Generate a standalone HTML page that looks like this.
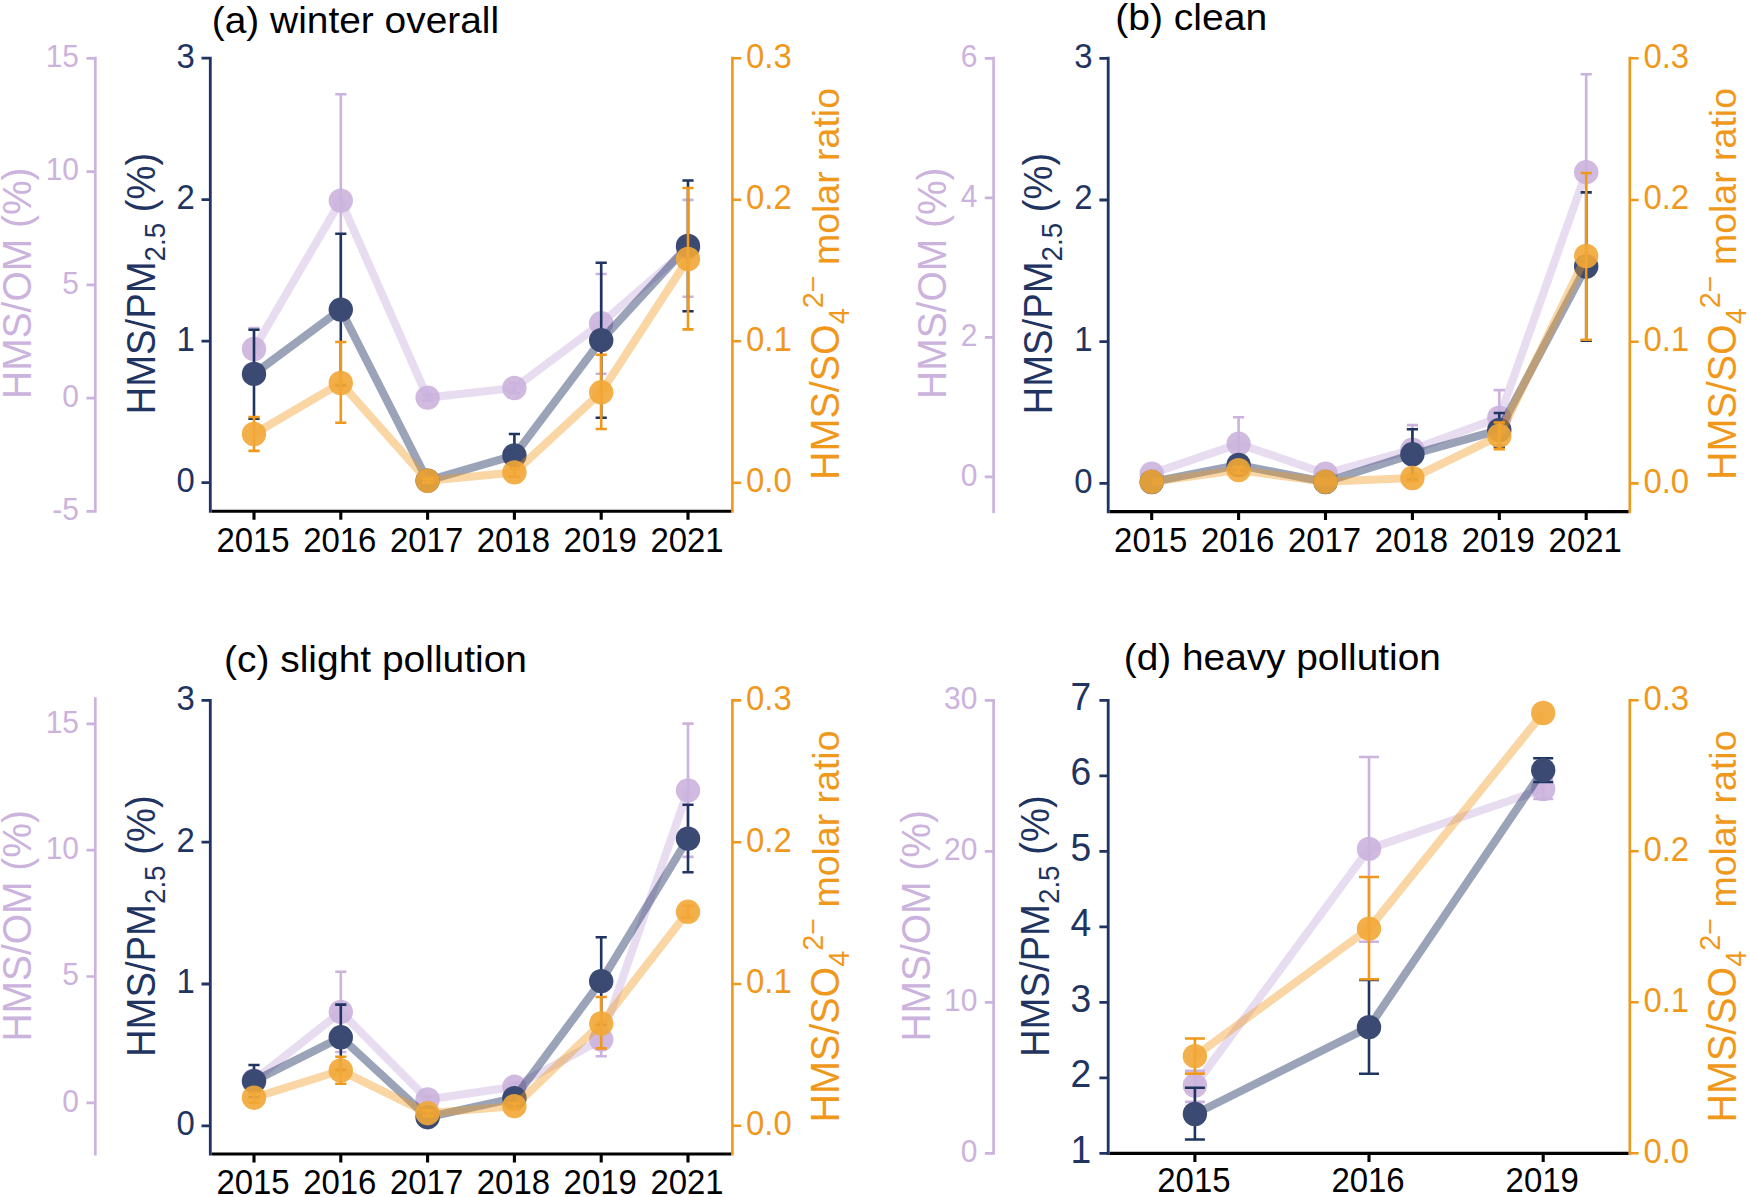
<!DOCTYPE html>
<html lang="en">
<head>
<meta charset="utf-8">
<title>HMS ratios by winter pollution level</title>
<style>
html,body{margin:0;padding:0;background:#fff;}
body{width:1750px;height:1197px;overflow:hidden;}
svg{display:block;}
svg text{font-family:"Liberation Sans", Arial, Helvetica, sans-serif;}
</style>
</head>
<body>
<svg width="1750" height="1197" viewBox="0 0 1750 1197">
<rect width="1750" height="1197" fill="#fff"/>
<g>
<polyline points="254,349 340.8,200.6 427.6,397.6 514.4,388 601.2,323.3 688,248.3" fill="none" stroke="#cbb3dd" stroke-opacity="0.45" stroke-width="8.1" stroke-linejoin="round" stroke-linecap="butt"/>
<path d="M254 328V370M248.4 328H259.6M248.4 370H259.6M340.8 94.3V306.9M335.2 94.3H346.4M335.2 306.9H346.4M427.6 394.6V400.6M422 394.6H433.2M422 400.6H433.2M514.4 383V393M508.8 383H520M508.8 393H520M601.2 274V373.7M595.6 274H606.8M595.6 373.7H606.8M688 199.9V296.7M682.4 199.9H693.6M682.4 296.7H693.6" fill="none" stroke="#cbb3dd" stroke-width="2.6"/>
<circle cx="254" cy="349" r="12.2" fill="#cbb3dd" fill-opacity="0.9"/>
<circle cx="340.8" cy="200.6" r="12.2" fill="#cbb3dd" fill-opacity="0.9"/>
<circle cx="427.6" cy="397.6" r="12.2" fill="#cbb3dd" fill-opacity="0.9"/>
<circle cx="514.4" cy="388" r="12.2" fill="#cbb3dd" fill-opacity="0.9"/>
<circle cx="601.2" cy="323.3" r="12.2" fill="#cbb3dd" fill-opacity="0.9"/>
<circle cx="688" cy="248.3" r="12.2" fill="#cbb3dd" fill-opacity="0.9"/>
<polyline points="254,373.9 340.8,309.6 427.6,480.6 514.4,455.4 601.2,340.2 688,245.9" fill="none" stroke="#1f3461" stroke-opacity="0.45" stroke-width="8.1" stroke-linejoin="round" stroke-linecap="butt"/>
<path d="M254 329.7V418.7M248.4 329.7H259.6M248.4 418.7H259.6M340.8 233.8V385.4M335.2 233.8H346.4M335.2 385.4H346.4M514.4 434V476.8M508.8 434H520M508.8 476.8H520M601.2 262.8V417.7M595.6 262.8H606.8M595.6 417.7H606.8M688 180.5V311.3M682.4 180.5H693.6M682.4 311.3H693.6" fill="none" stroke="#1f3461" stroke-width="2.6"/>
<circle cx="254" cy="373.9" r="12.2" fill="#3b4a73" fill-opacity="1.0"/>
<circle cx="340.8" cy="309.6" r="12.2" fill="#3b4a73" fill-opacity="1.0"/>
<circle cx="427.6" cy="480.6" r="12.2" fill="#3b4a73" fill-opacity="1.0"/>
<circle cx="514.4" cy="455.4" r="12.2" fill="#3b4a73" fill-opacity="1.0"/>
<circle cx="601.2" cy="340.2" r="12.2" fill="#3b4a73" fill-opacity="1.0"/>
<circle cx="688" cy="245.9" r="12.2" fill="#3b4a73" fill-opacity="1.0"/>
<polyline points="254,434 340.8,383 427.6,480.8 514.4,472.4 601.2,392.3 688,259" fill="none" stroke="#f0981c" stroke-opacity="0.4" stroke-width="8.1" stroke-linejoin="round" stroke-linecap="butt"/>
<path d="M254 417V450.9M248.4 417H259.6M248.4 450.9H259.6M340.8 342V422.7M335.2 342H346.4M335.2 422.7H346.4M427.6 478.8V482.8M422 478.8H433.2M422 482.8H433.2M514.4 468.4V476.4M508.8 468.4H520M508.8 476.4H520M601.2 354.8V429M595.6 354.8H606.8M595.6 429H606.8M688 188V329.4M682.4 188H693.6M682.4 329.4H693.6" fill="none" stroke="#f0981c" stroke-width="2.6"/>
<circle cx="254" cy="434" r="12.2" fill="#f2a736" fill-opacity="0.9"/>
<circle cx="340.8" cy="383" r="12.2" fill="#f2a736" fill-opacity="0.9"/>
<circle cx="427.6" cy="480.8" r="12.2" fill="#f2a736" fill-opacity="0.9"/>
<circle cx="514.4" cy="472.4" r="12.2" fill="#f2a736" fill-opacity="0.9"/>
<circle cx="601.2" cy="392.3" r="12.2" fill="#f2a736" fill-opacity="0.9"/>
<circle cx="688" cy="259" r="12.2" fill="#f2a736" fill-opacity="0.9"/>
<path d="M95.3 56.85V512.7M86.5 58.4H95.3M86.5 171.6H95.3M86.5 284.9H95.3M86.5 398.2H95.3M86.5 511.4H95.3" fill="none" stroke="#cbb3dd" stroke-width="2.7"/>
<text transform="translate(79 67.2) scale(0.96 1)" font-size="31.2" fill="#cbb3dd" text-anchor="end">15</text>
<text transform="translate(79 180.4) scale(0.96 1)" font-size="31.2" fill="#cbb3dd" text-anchor="end">10</text>
<text transform="translate(79 293.7) scale(0.96 1)" font-size="31.2" fill="#cbb3dd" text-anchor="end">5</text>
<text transform="translate(79 407) scale(0.96 1)" font-size="31.2" fill="#cbb3dd" text-anchor="end">0</text>
<text transform="translate(79 520.2) scale(0.96 1)" font-size="31.2" fill="#cbb3dd" text-anchor="end">-5</text>
<path d="M210.3 56.85V512.85M201.5 58.2H210.3M201.5 199.7H210.3M201.5 341.2H210.3M201.5 482.7H210.3" fill="none" stroke="#1f3461" stroke-width="2.8"/>
<text transform="translate(194.7 67.5) scale(0.96 1)" font-size="34.3" fill="#1f3461" text-anchor="end">3</text>
<text transform="translate(194.7 209) scale(0.96 1)" font-size="34.3" fill="#1f3461" text-anchor="end">2</text>
<text transform="translate(194.7 350.5) scale(0.96 1)" font-size="34.3" fill="#1f3461" text-anchor="end">1</text>
<text transform="translate(194.7 492) scale(0.96 1)" font-size="34.3" fill="#1f3461" text-anchor="end">0</text>
<path d="M732.4 56.85V512.85M732.4 58.2H741.2M732.4 199.7H741.2M732.4 341.2H741.2M732.4 482.7H741.2" fill="none" stroke="#f0981c" stroke-width="2.6"/>
<text transform="translate(746 67.5) scale(0.96 1)" font-size="34.3" fill="#f0981c" text-anchor="start">0.3</text>
<text transform="translate(746 209) scale(0.96 1)" font-size="34.3" fill="#f0981c" text-anchor="start">0.2</text>
<text transform="translate(746 350.5) scale(0.96 1)" font-size="34.3" fill="#f0981c" text-anchor="start">0.1</text>
<text transform="translate(746 492) scale(0.96 1)" font-size="34.3" fill="#f0981c" text-anchor="start">0.0</text>
<path d="M211.7 511.3H731.1M254 511.3V519.8M340.8 511.3V519.8M427.6 511.3V519.8M514.4 511.3V519.8M601.2 511.3V519.8M688 511.3V519.8" fill="none" stroke="#000" stroke-width="3.1"/>
<text transform="translate(253 551.6) scale(0.96 1)" font-size="34.3" fill="#000" text-anchor="middle">2015</text>
<text transform="translate(339.8 551.6) scale(0.96 1)" font-size="34.3" fill="#000" text-anchor="middle">2016</text>
<text transform="translate(426.6 551.6) scale(0.96 1)" font-size="34.3" fill="#000" text-anchor="middle">2017</text>
<text transform="translate(513.4 551.6) scale(0.96 1)" font-size="34.3" fill="#000" text-anchor="middle">2018</text>
<text transform="translate(600.2 551.6) scale(0.96 1)" font-size="34.3" fill="#000" text-anchor="middle">2019</text>
<text transform="translate(687 551.6) scale(0.96 1)" font-size="34.3" fill="#000" text-anchor="middle">2021</text>
<text transform="translate(31.3 398.9) rotate(-90)" font-size="39.8" fill="#cbb3dd" text-anchor="start" textLength="231.4" lengthAdjust="spacingAndGlyphs">HMS/OM (%)</text>
<text transform="translate(154.7 414.4) rotate(-90)" font-size="39.8" fill="#1f3461" text-anchor="start" textLength="261.7" lengthAdjust="spacingAndGlyphs">HMS/PM<tspan font-size="29.0" dy="10.3">2.5</tspan><tspan dy="-10.3"> (%)</tspan></text>
<text transform="translate(838.8 480) rotate(-90)" font-size="39.8" fill="#f0981c" text-anchor="start" textLength="392" lengthAdjust="spacingAndGlyphs">HMS/SO<tspan font-size="29.0" dy="10">4</tspan><tspan font-size="29.0" dy="-26">2−</tspan><tspan font-size="37.8" dy="16"> molar ratio</tspan></text>
<text x="211.8" y="33.4" font-size="37.8" fill="#000" textLength="287.3" lengthAdjust="spacingAndGlyphs">(a) winter overall</text>
</g>
<g>
<polyline points="1151.7,473.6 1238.6,443.8 1325.5,473.6 1412.4,449.6 1499.3,417.6 1586.2,172.2" fill="none" stroke="#cbb3dd" stroke-opacity="0.45" stroke-width="8.1" stroke-linejoin="round" stroke-linecap="butt"/>
<path d="M1151.7 470.6V476.6M1146.1 470.6H1157.3M1146.1 476.6H1157.3M1238.6 417.3V470.3M1233 417.3H1244.2M1233 470.3H1244.2M1325.5 470.6V476.6M1319.9 470.6H1331.1M1319.9 476.6H1331.1M1412.4 425.1V474.1M1406.8 425.1H1418M1406.8 474.1H1418M1499.3 390.1V445.1M1493.7 390.1H1504.9M1493.7 445.1H1504.9M1586.2 74.2V270.2M1580.6 74.2H1591.8M1580.6 270.2H1591.8" fill="none" stroke="#cbb3dd" stroke-width="2.6"/>
<circle cx="1151.7" cy="473.6" r="12.2" fill="#cbb3dd" fill-opacity="0.9"/>
<circle cx="1238.6" cy="443.8" r="12.2" fill="#cbb3dd" fill-opacity="0.9"/>
<circle cx="1325.5" cy="473.6" r="12.2" fill="#cbb3dd" fill-opacity="0.9"/>
<circle cx="1412.4" cy="449.6" r="12.2" fill="#cbb3dd" fill-opacity="0.9"/>
<circle cx="1499.3" cy="417.6" r="12.2" fill="#cbb3dd" fill-opacity="0.9"/>
<circle cx="1586.2" cy="172.2" r="12.2" fill="#cbb3dd" fill-opacity="0.9"/>
<polyline points="1151.7,482 1238.6,465 1325.5,482 1412.4,454.3 1499.3,430 1586.2,266.5" fill="none" stroke="#1f3461" stroke-opacity="0.45" stroke-width="8.1" stroke-linejoin="round" stroke-linecap="butt"/>
<path d="M1238.6 459V471M1233 459H1244.2M1233 471H1244.2M1412.4 429.2V479.4M1406.8 429.2H1418M1406.8 479.4H1418M1499.3 413V447M1493.7 413H1504.9M1493.7 447H1504.9M1586.2 192.4V340.6M1580.6 192.4H1591.8M1580.6 340.6H1591.8" fill="none" stroke="#1f3461" stroke-width="2.6"/>
<circle cx="1151.7" cy="482" r="12.2" fill="#3b4a73" fill-opacity="1.0"/>
<circle cx="1238.6" cy="465" r="12.2" fill="#3b4a73" fill-opacity="1.0"/>
<circle cx="1325.5" cy="482" r="12.2" fill="#3b4a73" fill-opacity="1.0"/>
<circle cx="1412.4" cy="454.3" r="12.2" fill="#3b4a73" fill-opacity="1.0"/>
<circle cx="1499.3" cy="430" r="12.2" fill="#3b4a73" fill-opacity="1.0"/>
<circle cx="1586.2" cy="266.5" r="12.2" fill="#3b4a73" fill-opacity="1.0"/>
<polyline points="1151.7,481.8 1238.6,470.1 1325.5,481.8 1412.4,478 1499.3,435.8 1586.2,256" fill="none" stroke="#f0981c" stroke-opacity="0.4" stroke-width="8.1" stroke-linejoin="round" stroke-linecap="butt"/>
<path d="M1238.6 467.1V473.1M1233 467.1H1244.2M1233 473.1H1244.2M1412.4 475V481M1406.8 475H1418M1406.8 481H1418M1499.3 422.5V449.3M1493.7 422.5H1504.9M1493.7 449.3H1504.9M1586.2 173V339.7M1580.6 173H1591.8M1580.6 339.7H1591.8" fill="none" stroke="#f0981c" stroke-width="2.6"/>
<circle cx="1151.7" cy="481.8" r="12.2" fill="#f2a736" fill-opacity="0.9"/>
<circle cx="1238.6" cy="470.1" r="12.2" fill="#f2a736" fill-opacity="0.9"/>
<circle cx="1325.5" cy="481.8" r="12.2" fill="#f2a736" fill-opacity="0.9"/>
<circle cx="1412.4" cy="478" r="12.2" fill="#f2a736" fill-opacity="0.9"/>
<circle cx="1499.3" cy="435.8" r="12.2" fill="#f2a736" fill-opacity="0.9"/>
<circle cx="1586.2" cy="256" r="12.2" fill="#f2a736" fill-opacity="0.9"/>
<path d="M993.6 56.85V513M984.8 58.4H993.6M984.8 197.9H993.6M984.8 337.4H993.6M984.8 476.9H993.6" fill="none" stroke="#cbb3dd" stroke-width="2.7"/>
<text transform="translate(977.3 67.2) scale(0.96 1)" font-size="31.2" fill="#cbb3dd" text-anchor="end">6</text>
<text transform="translate(977.3 206.7) scale(0.96 1)" font-size="31.2" fill="#cbb3dd" text-anchor="end">4</text>
<text transform="translate(977.3 346.2) scale(0.96 1)" font-size="31.2" fill="#cbb3dd" text-anchor="end">2</text>
<text transform="translate(977.3 485.7) scale(0.96 1)" font-size="31.2" fill="#cbb3dd" text-anchor="end">0</text>
<path d="M1108.2 56.85V513.15M1099.4 58.3H1108.2M1099.4 200H1108.2M1099.4 341.7H1108.2M1099.4 483.4H1108.2" fill="none" stroke="#1f3461" stroke-width="2.8"/>
<text transform="translate(1092.6 67.6) scale(0.96 1)" font-size="34.3" fill="#1f3461" text-anchor="end">3</text>
<text transform="translate(1092.6 209.3) scale(0.96 1)" font-size="34.3" fill="#1f3461" text-anchor="end">2</text>
<text transform="translate(1092.6 351) scale(0.96 1)" font-size="34.3" fill="#1f3461" text-anchor="end">1</text>
<text transform="translate(1092.6 492.7) scale(0.96 1)" font-size="34.3" fill="#1f3461" text-anchor="end">0</text>
<path d="M1629.8 56.85V513.15M1629.8 58.3H1638.6M1629.8 200H1638.6M1629.8 341.7H1638.6M1629.8 483.4H1638.6" fill="none" stroke="#f0981c" stroke-width="2.6"/>
<text transform="translate(1643.4 67.6) scale(0.96 1)" font-size="34.3" fill="#f0981c" text-anchor="start">0.3</text>
<text transform="translate(1643.4 209.3) scale(0.96 1)" font-size="34.3" fill="#f0981c" text-anchor="start">0.2</text>
<text transform="translate(1643.4 351) scale(0.96 1)" font-size="34.3" fill="#f0981c" text-anchor="start">0.1</text>
<text transform="translate(1643.4 492.7) scale(0.96 1)" font-size="34.3" fill="#f0981c" text-anchor="start">0.0</text>
<path d="M1109.6 511.6H1628.5M1151.7 511.6V520.1M1238.6 511.6V520.1M1325.5 511.6V520.1M1412.4 511.6V520.1M1499.3 511.6V520.1M1586.2 511.6V520.1" fill="none" stroke="#000" stroke-width="3.1"/>
<text transform="translate(1150.7 552.2) scale(0.96 1)" font-size="34.3" fill="#000" text-anchor="middle">2015</text>
<text transform="translate(1237.6 552.2) scale(0.96 1)" font-size="34.3" fill="#000" text-anchor="middle">2016</text>
<text transform="translate(1324.5 552.2) scale(0.96 1)" font-size="34.3" fill="#000" text-anchor="middle">2017</text>
<text transform="translate(1411.4 552.2) scale(0.96 1)" font-size="34.3" fill="#000" text-anchor="middle">2018</text>
<text transform="translate(1498.3 552.2) scale(0.96 1)" font-size="34.3" fill="#000" text-anchor="middle">2019</text>
<text transform="translate(1585.2 552.2) scale(0.96 1)" font-size="34.3" fill="#000" text-anchor="middle">2021</text>
<text transform="translate(945.6 398.9) rotate(-90)" font-size="39.8" fill="#cbb3dd" text-anchor="start" textLength="231.4" lengthAdjust="spacingAndGlyphs">HMS/OM (%)</text>
<text transform="translate(1051.7 414.4) rotate(-90)" font-size="39.8" fill="#1f3461" text-anchor="start" textLength="261.7" lengthAdjust="spacingAndGlyphs">HMS/PM<tspan font-size="29.0" dy="10.3">2.5</tspan><tspan dy="-10.3"> (%)</tspan></text>
<text transform="translate(1735.5 480) rotate(-90)" font-size="39.8" fill="#f0981c" text-anchor="start" textLength="392" lengthAdjust="spacingAndGlyphs">HMS/SO<tspan font-size="29.0" dy="10">4</tspan><tspan font-size="29.0" dy="-26">2−</tspan><tspan font-size="37.8" dy="16"> molar ratio</tspan></text>
<text x="1115.2" y="29.6" font-size="37.8" fill="#000" textLength="152" lengthAdjust="spacingAndGlyphs">(b) clean</text>
</g>
<g>
<polyline points="254,1080.5 340.8,1011.9 427.6,1099.4 514.4,1086.8 601.2,1039.6 688,790.4" fill="none" stroke="#cbb3dd" stroke-opacity="0.45" stroke-width="8.1" stroke-linejoin="round" stroke-linecap="butt"/>
<path d="M254 1074.5V1086.5M248.4 1074.5H259.6M248.4 1086.5H259.6M340.8 971.7V1052M335.2 971.7H346.4M335.2 1052H346.4M427.6 1096.4V1102.4M422 1096.4H433.2M422 1102.4H433.2M514.4 1082.8V1090.8M508.8 1082.8H520M508.8 1090.8H520M601.2 1023V1056.2M595.6 1023H606.8M595.6 1056.2H606.8M688 723.6V856.9M682.4 723.6H693.6M682.4 856.9H693.6" fill="none" stroke="#cbb3dd" stroke-width="2.6"/>
<circle cx="254" cy="1080.5" r="12.2" fill="#cbb3dd" fill-opacity="0.9"/>
<circle cx="340.8" cy="1011.9" r="12.2" fill="#cbb3dd" fill-opacity="0.9"/>
<circle cx="427.6" cy="1099.4" r="12.2" fill="#cbb3dd" fill-opacity="0.9"/>
<circle cx="514.4" cy="1086.8" r="12.2" fill="#cbb3dd" fill-opacity="0.9"/>
<circle cx="601.2" cy="1039.6" r="12.2" fill="#cbb3dd" fill-opacity="0.9"/>
<circle cx="688" cy="790.4" r="12.2" fill="#cbb3dd" fill-opacity="0.9"/>
<polyline points="254,1081.1 340.8,1037.3 427.6,1117.2 514.4,1098.2 601.2,981.2 688,838.6" fill="none" stroke="#1f3461" stroke-opacity="0.45" stroke-width="8.1" stroke-linejoin="round" stroke-linecap="butt"/>
<path d="M254 1065V1097M248.4 1065H259.6M248.4 1097H259.6M340.8 1004.6V1070M335.2 1004.6H346.4M335.2 1070H346.4M427.6 1114.2V1120.2M422 1114.2H433.2M422 1120.2H433.2M514.4 1093.2V1103.2M508.8 1093.2H520M508.8 1103.2H520M601.2 937.2V1025M595.6 937.2H606.8M595.6 1025H606.8M688 804.8V872.2M682.4 804.8H693.6M682.4 872.2H693.6" fill="none" stroke="#1f3461" stroke-width="2.6"/>
<circle cx="254" cy="1081.1" r="12.2" fill="#3b4a73" fill-opacity="1.0"/>
<circle cx="340.8" cy="1037.3" r="12.2" fill="#3b4a73" fill-opacity="1.0"/>
<circle cx="427.6" cy="1117.2" r="12.2" fill="#3b4a73" fill-opacity="1.0"/>
<circle cx="514.4" cy="1098.2" r="12.2" fill="#3b4a73" fill-opacity="1.0"/>
<circle cx="601.2" cy="981.2" r="12.2" fill="#3b4a73" fill-opacity="1.0"/>
<circle cx="688" cy="838.6" r="12.2" fill="#3b4a73" fill-opacity="1.0"/>
<polyline points="254,1097.7 340.8,1070.5 427.6,1113.2 514.4,1106.2 601.2,1023.5 688,911.8" fill="none" stroke="#f0981c" stroke-opacity="0.4" stroke-width="8.1" stroke-linejoin="round" stroke-linecap="butt"/>
<path d="M254 1092.7V1102.7M248.4 1092.7H259.6M248.4 1102.7H259.6M340.8 1056.7V1083.8M335.2 1056.7H346.4M335.2 1083.8H346.4M427.6 1110.2V1116.2M422 1110.2H433.2M422 1116.2H433.2M514.4 1103.2V1109.2M508.8 1103.2H520M508.8 1109.2H520M601.2 997V1048.4M595.6 997H606.8M595.6 1048.4H606.8M688 905.8V917.8M682.4 905.8H693.6M682.4 917.8H693.6" fill="none" stroke="#f0981c" stroke-width="2.6"/>
<circle cx="254" cy="1097.7" r="12.2" fill="#f2a736" fill-opacity="0.9"/>
<circle cx="340.8" cy="1070.5" r="12.2" fill="#f2a736" fill-opacity="0.9"/>
<circle cx="427.6" cy="1113.2" r="12.2" fill="#f2a736" fill-opacity="0.9"/>
<circle cx="514.4" cy="1106.2" r="12.2" fill="#f2a736" fill-opacity="0.9"/>
<circle cx="601.2" cy="1023.5" r="12.2" fill="#f2a736" fill-opacity="0.9"/>
<circle cx="688" cy="911.8" r="12.2" fill="#f2a736" fill-opacity="0.9"/>
<path d="M95.3 697.25V1155.4M86.5 723.9H95.3M86.5 850.2H95.3M86.5 976.5H95.3M86.5 1102.8H95.3" fill="none" stroke="#cbb3dd" stroke-width="2.7"/>
<text transform="translate(79 732.7) scale(0.96 1)" font-size="31.2" fill="#cbb3dd" text-anchor="end">15</text>
<text transform="translate(79 859) scale(0.96 1)" font-size="31.2" fill="#cbb3dd" text-anchor="end">10</text>
<text transform="translate(79 985.3) scale(0.96 1)" font-size="31.2" fill="#cbb3dd" text-anchor="end">5</text>
<text transform="translate(79 1111.6) scale(0.96 1)" font-size="31.2" fill="#cbb3dd" text-anchor="end">0</text>
<path d="M210.3 699.05V1155.55M201.5 700.4H210.3M201.5 842.2H210.3M201.5 984H210.3M201.5 1125.8H210.3" fill="none" stroke="#1f3461" stroke-width="2.8"/>
<text transform="translate(194.7 709.7) scale(0.96 1)" font-size="34.3" fill="#1f3461" text-anchor="end">3</text>
<text transform="translate(194.7 851.5) scale(0.96 1)" font-size="34.3" fill="#1f3461" text-anchor="end">2</text>
<text transform="translate(194.7 993.3) scale(0.96 1)" font-size="34.3" fill="#1f3461" text-anchor="end">1</text>
<text transform="translate(194.7 1135.1) scale(0.96 1)" font-size="34.3" fill="#1f3461" text-anchor="end">0</text>
<path d="M732.4 699.05V1155.55M732.4 700.4H741.2M732.4 842.2H741.2M732.4 984H741.2M732.4 1125.8H741.2" fill="none" stroke="#f0981c" stroke-width="2.6"/>
<text transform="translate(746 709.7) scale(0.96 1)" font-size="34.3" fill="#f0981c" text-anchor="start">0.3</text>
<text transform="translate(746 851.5) scale(0.96 1)" font-size="34.3" fill="#f0981c" text-anchor="start">0.2</text>
<text transform="translate(746 993.3) scale(0.96 1)" font-size="34.3" fill="#f0981c" text-anchor="start">0.1</text>
<text transform="translate(746 1135.1) scale(0.96 1)" font-size="34.3" fill="#f0981c" text-anchor="start">0.0</text>
<path d="M211.7 1154H731.1M254 1154V1162.5M340.8 1154V1162.5M427.6 1154V1162.5M514.4 1154V1162.5M601.2 1154V1162.5M688 1154V1162.5" fill="none" stroke="#000" stroke-width="3.1"/>
<text transform="translate(253 1194.2) scale(0.96 1)" font-size="34.3" fill="#000" text-anchor="middle">2015</text>
<text transform="translate(339.8 1194.2) scale(0.96 1)" font-size="34.3" fill="#000" text-anchor="middle">2016</text>
<text transform="translate(426.6 1194.2) scale(0.96 1)" font-size="34.3" fill="#000" text-anchor="middle">2017</text>
<text transform="translate(513.4 1194.2) scale(0.96 1)" font-size="34.3" fill="#000" text-anchor="middle">2018</text>
<text transform="translate(600.2 1194.2) scale(0.96 1)" font-size="34.3" fill="#000" text-anchor="middle">2019</text>
<text transform="translate(687 1194.2) scale(0.96 1)" font-size="34.3" fill="#000" text-anchor="middle">2021</text>
<text transform="translate(31.3 1041.5) rotate(-90)" font-size="39.8" fill="#cbb3dd" text-anchor="start" textLength="231.4" lengthAdjust="spacingAndGlyphs">HMS/OM (%)</text>
<text transform="translate(154.7 1057) rotate(-90)" font-size="39.8" fill="#1f3461" text-anchor="start" textLength="261.7" lengthAdjust="spacingAndGlyphs">HMS/PM<tspan font-size="29.0" dy="10.3">2.5</tspan><tspan dy="-10.3"> (%)</tspan></text>
<text transform="translate(838.8 1122.5) rotate(-90)" font-size="39.8" fill="#f0981c" text-anchor="start" textLength="392" lengthAdjust="spacingAndGlyphs">HMS/SO<tspan font-size="29.0" dy="10">4</tspan><tspan font-size="29.0" dy="-26">2−</tspan><tspan font-size="37.8" dy="16"> molar ratio</tspan></text>
<text x="224" y="671.5" font-size="37.8" fill="#000" textLength="303" lengthAdjust="spacingAndGlyphs">(c) slight pollution</text>
</g>
<g>
<polyline points="1194.9,1085.5 1369,848.9 1543.2,789" fill="none" stroke="#cbb3dd" stroke-opacity="0.45" stroke-width="8.1" stroke-linejoin="round" stroke-linecap="butt"/>
<path d="M1194.9 1070.9V1101.9M1184.9 1070.9H1204.9M1184.9 1101.9H1204.9M1369 757V941.8M1359 757H1379M1359 941.8H1379M1543.2 779V799M1533.2 779H1553.2M1533.2 799H1553.2" fill="none" stroke="#cbb3dd" stroke-width="2.6"/>
<circle cx="1194.9" cy="1085.5" r="12.2" fill="#cbb3dd" fill-opacity="0.9"/>
<circle cx="1369" cy="848.9" r="12.2" fill="#cbb3dd" fill-opacity="0.9"/>
<circle cx="1543.2" cy="789" r="12.2" fill="#cbb3dd" fill-opacity="0.9"/>
<polyline points="1194.9,1114 1369,1027.2 1543.2,770.1" fill="none" stroke="#1f3461" stroke-opacity="0.45" stroke-width="8.1" stroke-linejoin="round" stroke-linecap="butt"/>
<path d="M1194.9 1087.8V1139.5M1184.9 1087.8H1204.9M1184.9 1139.5H1204.9M1369 980V1073.8M1359 980H1379M1359 1073.8H1379M1543.2 758.3V782M1533.2 758.3H1553.2M1533.2 782H1553.2" fill="none" stroke="#1f3461" stroke-width="2.6"/>
<circle cx="1194.9" cy="1114" r="12.2" fill="#3b4a73" fill-opacity="1.0"/>
<circle cx="1369" cy="1027.2" r="12.2" fill="#3b4a73" fill-opacity="1.0"/>
<circle cx="1543.2" cy="770.1" r="12.2" fill="#3b4a73" fill-opacity="1.0"/>
<polyline points="1194.9,1056.2 1369,928.6 1543.2,713" fill="none" stroke="#f0981c" stroke-opacity="0.4" stroke-width="8.1" stroke-linejoin="round" stroke-linecap="butt"/>
<path d="M1194.9 1038.5V1073.6M1184.9 1038.5H1204.9M1184.9 1073.6H1204.9M1369 877V979.2M1359 877H1379M1359 979.2H1379" fill="none" stroke="#f0981c" stroke-width="2.6"/>
<circle cx="1194.9" cy="1056.2" r="12.2" fill="#f2a736" fill-opacity="0.9"/>
<circle cx="1369" cy="928.6" r="12.2" fill="#f2a736" fill-opacity="0.9"/>
<circle cx="1543.2" cy="713" r="12.2" fill="#f2a736" fill-opacity="0.9"/>
<path d="M993.6 698.95V1154.8M984.8 700.3H993.6M984.8 851.3H993.6M984.8 1002.3H993.6M984.8 1153.3H993.6" fill="none" stroke="#cbb3dd" stroke-width="2.7"/>
<text transform="translate(977.3 709.1) scale(0.96 1)" font-size="31.2" fill="#cbb3dd" text-anchor="end">30</text>
<text transform="translate(977.3 860.1) scale(0.96 1)" font-size="31.2" fill="#cbb3dd" text-anchor="end">20</text>
<text transform="translate(977.3 1011.1) scale(0.96 1)" font-size="31.2" fill="#cbb3dd" text-anchor="end">10</text>
<text transform="translate(977.3 1162.1) scale(0.96 1)" font-size="31.2" fill="#cbb3dd" text-anchor="end">0</text>
<path d="M1108.2 698.95V1154.95M1099.4 700.3H1108.2M1099.4 775.8H1108.2M1099.4 851.3H1108.2M1099.4 926.8H1108.2M1099.4 1002.3H1108.2M1099.4 1077.8H1108.2M1099.4 1153.3H1108.2" fill="none" stroke="#1f3461" stroke-width="2.8"/>
<text transform="translate(1091.3 709.7) scale(0.96 1)" font-size="38.8" fill="#1f3461" text-anchor="end">7</text>
<text transform="translate(1091.3 785.2) scale(0.96 1)" font-size="38.8" fill="#1f3461" text-anchor="end">6</text>
<text transform="translate(1091.3 860.7) scale(0.96 1)" font-size="38.8" fill="#1f3461" text-anchor="end">5</text>
<text transform="translate(1091.3 936.2) scale(0.96 1)" font-size="38.8" fill="#1f3461" text-anchor="end">4</text>
<text transform="translate(1091.3 1011.7) scale(0.96 1)" font-size="38.8" fill="#1f3461" text-anchor="end">3</text>
<text transform="translate(1091.3 1087.2) scale(0.96 1)" font-size="38.8" fill="#1f3461" text-anchor="end">2</text>
<text transform="translate(1091.3 1162.7) scale(0.96 1)" font-size="38.8" fill="#1f3461" text-anchor="end">1</text>
<path d="M1629.8 698.95V1154.95M1629.8 700.3H1638.6M1629.8 851.3H1638.6M1629.8 1002.3H1638.6M1629.8 1153.3H1638.6" fill="none" stroke="#f0981c" stroke-width="2.6"/>
<text transform="translate(1643.4 709.6) scale(0.96 1)" font-size="34.3" fill="#f0981c" text-anchor="start">0.3</text>
<text transform="translate(1643.4 860.6) scale(0.96 1)" font-size="34.3" fill="#f0981c" text-anchor="start">0.2</text>
<text transform="translate(1643.4 1011.6) scale(0.96 1)" font-size="34.3" fill="#f0981c" text-anchor="start">0.1</text>
<text transform="translate(1643.4 1162.6) scale(0.96 1)" font-size="34.3" fill="#f0981c" text-anchor="start">0.0</text>
<path d="M1109.6 1153.4H1628.5M1194.9 1153.4V1161.9M1369 1153.4V1161.9M1543.2 1153.4V1161.9" fill="none" stroke="#000" stroke-width="3.1"/>
<text transform="translate(1193.9 1192) scale(0.96 1)" font-size="34.3" fill="#000" text-anchor="middle">2015</text>
<text transform="translate(1368 1192) scale(0.96 1)" font-size="34.3" fill="#000" text-anchor="middle">2016</text>
<text transform="translate(1542.2 1192) scale(0.96 1)" font-size="34.3" fill="#000" text-anchor="middle">2019</text>
<text transform="translate(929.6 1041.5) rotate(-90)" font-size="39.8" fill="#cbb3dd" text-anchor="start" textLength="231.4" lengthAdjust="spacingAndGlyphs">HMS/OM (%)</text>
<text transform="translate(1048.7 1057) rotate(-90)" font-size="39.8" fill="#1f3461" text-anchor="start" textLength="261.7" lengthAdjust="spacingAndGlyphs">HMS/PM<tspan font-size="29.0" dy="10.3">2.5</tspan><tspan dy="-10.3"> (%)</tspan></text>
<text transform="translate(1735.5 1122.5) rotate(-90)" font-size="39.8" fill="#f0981c" text-anchor="start" textLength="392" lengthAdjust="spacingAndGlyphs">HMS/SO<tspan font-size="29.0" dy="10">4</tspan><tspan font-size="29.0" dy="-26">2−</tspan><tspan font-size="37.8" dy="16"> molar ratio</tspan></text>
<text x="1123.8" y="670.3" font-size="37.8" fill="#000" textLength="317" lengthAdjust="spacingAndGlyphs">(d) heavy pollution</text>
</g>
</svg>
</body>
</html>
